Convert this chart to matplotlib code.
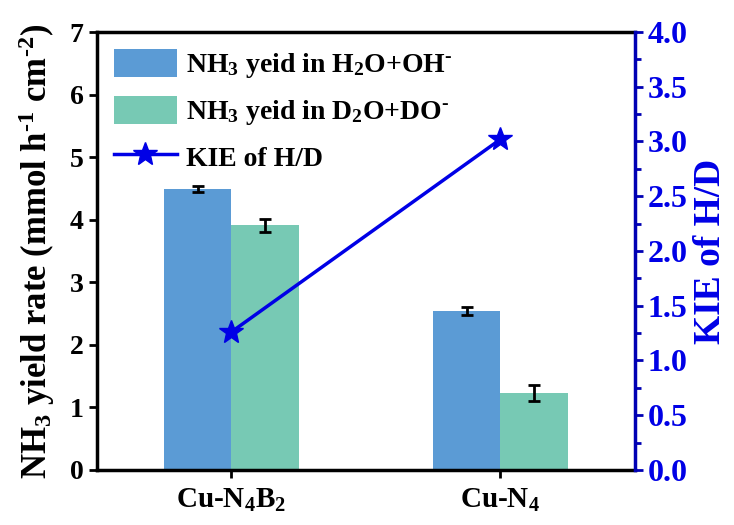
import numpy as np
import matplotlib
matplotlib.use("Agg")
from matplotlib import pyplot as plt
from matplotlib.ticker import MultipleLocator, FormatStrFormatter

plt.rcParams['font.family'] = 'Liberation Serif'
plt.rcParams['font.weight'] = 'bold'
plt.rcParams['axes.labelweight'] = 'bold'
plt.rcParams['mathtext.fontset'] = 'custom'
plt.rcParams['mathtext.rm'] = 'Liberation Serif:bold'
plt.rcParams['mathtext.it'] = 'Liberation Serif:italic:bold'
plt.rcParams['mathtext.bf'] = 'Liberation Serif:bold'
plt.rcParams['mathtext.default'] = 'rm'

samples = ["Cu-N$_4$B$_2$", "Cu-N$_4$"]
yield_h = np.array([4.49, 2.54])
err_h = np.array([0.05, 0.07])
yield_d = np.array([3.91, 1.23])
err_d = np.array([0.10, 0.13])
kie = np.array([1.26, 3.02])

c_h = "#5B9BD5"
c_d = "#77C9B4"
c_kie = "#0000E6"
c_axis = "#0000B4"

fig = plt.figure(figsize=(7.34, 5.25), dpi=100)
ax = fig.add_axes([0.132, 0.105, 0.733, 0.834])
x = np.arange(len(samples))
w = 0.25

b1 = ax.bar(x - w / 2, yield_h, w, color=c_h, label=r"NH$_3$ yeid in H$_2$O+OH$^{\text{-}}$")
b2 = ax.bar(x + w / 2, yield_d, w, color=c_d, label=r"NH$_3$ yeid in D$_2$O+DO$^{\text{-}}$")
ax.errorbar(x - w / 2, yield_h, yerr=err_h, fmt="none", ecolor="k", elinewidth=2,
            capsize=4, capthick=2)
ax.errorbar(x + w / 2, yield_d, yerr=err_d, fmt="none", ecolor="k", elinewidth=2,
            capsize=4, capthick=2)

ax.set_xlim(-0.5, 1.5)
ax.set_ylim(0, 7)
ax.set_xticks(x)
ax.set_xticklabels(samples, fontsize=21)
ax.yaxis.set_major_locator(MultipleLocator(1))
ax.tick_params(axis="both", direction="out", length=6, width=2, labelsize=20)
ax.tick_params(axis="x", pad=6, labelsize=21)
ax.set_ylabel(r"NH$_3$ yield rate (mmol h$^{\text{-}1}$ cm$^{\text{-}2}$)", fontsize=25, labelpad=9)
for s in ["left", "bottom", "top"]:
    ax.spines[s].set_linewidth(2.5)
ax.spines["right"].set_visible(False)

ax2 = ax.twinx()
ln, = ax2.plot(x, kie, "-", color=c_kie, lw=2.5, marker="*", ms=18, label="KIE of H/D")
ax2.set_ylim(0, 4)
ax2.yaxis.set_major_locator(MultipleLocator(0.5))
ax2.yaxis.set_minor_locator(MultipleLocator(0.25))
ax2.yaxis.set_major_formatter(FormatStrFormatter("%.1f"))
ax2.tick_params(axis="y", which="major", direction="out", length=6, width=2,
                colors=c_axis, labelsize=23, labelcolor=c_kie, pad=3)
ax2.tick_params(axis="y", which="minor", direction="out", length=4, width=2, colors=c_axis)
ax2.set_ylabel("KIE of H/D", fontsize=27, color=c_kie, labelpad=4)
for s in ["left", "bottom", "top"]:
    ax2.spines[s].set_visible(False)
ax2.spines["right"].set_linewidth(2.5)
ax2.spines["right"].set_color(c_axis)

ax.legend([b1, b2, ln], [b1.get_label(), b2.get_label(), ln.get_label()],
          loc="upper left", frameon=False, fontsize=20, handlelength=2.3,
          handleheight=1.2, labelspacing=0.55, handletextpad=0.3,
          borderaxespad=0.2, bbox_to_anchor=(0.0, 1.0))

fig.savefig("out.png", dpi=100)
